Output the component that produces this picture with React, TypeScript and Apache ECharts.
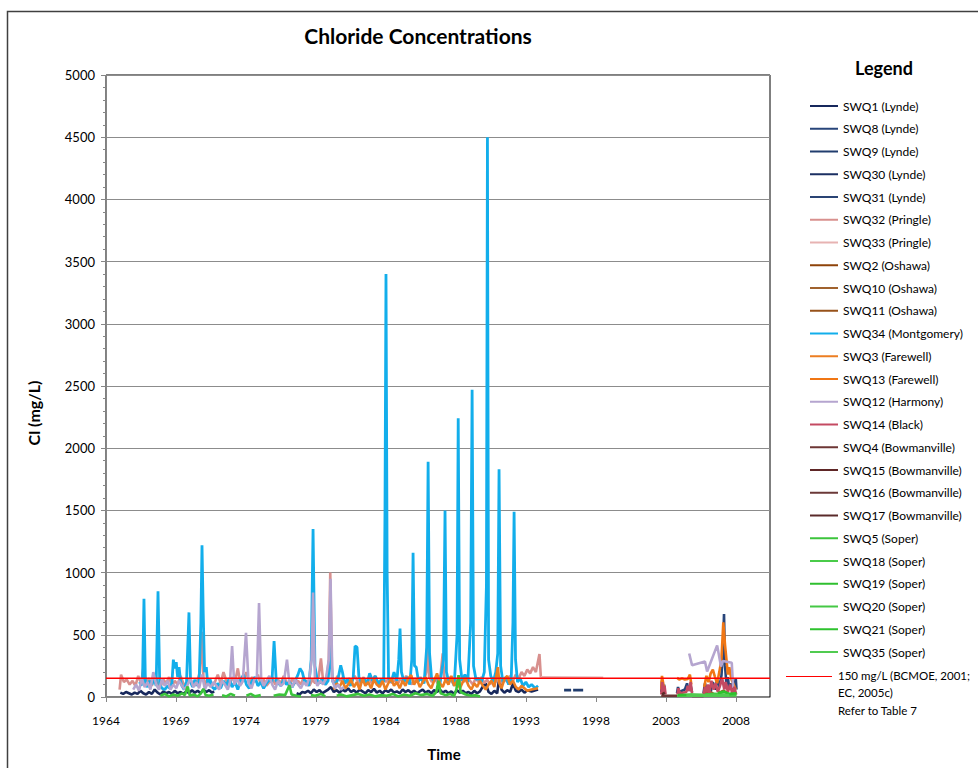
import React, { useEffect, useRef } from 'react';
import * as echarts from 'echarts';

const FONT = 'Lato, "Open Sans", sans-serif';

type Pt = [number, number | string];

// ---------- tick labels ----------
const xTickLabels = ['1964', '1969', '1974', '1979', '1984', '1988', '1993', '1998', '2003', '2008'];
const yMax = 5000;
const yInterval = 500;
const thresholdValue = 150;

// ---------- series names & colours ----------
const seriesNames = [
  'SWQ1 (Lynde)', 'SWQ8 (Lynde)', 'SWQ9 (Lynde)', 'SWQ30 (Lynde)', 'SWQ31 (Lynde)',
  'SWQ32 (Pringle)', 'SWQ33 (Pringle)',
  'SWQ2 (Oshawa)', 'SWQ10 (Oshawa)', 'SWQ11 (Oshawa)',
  'SWQ34 (Montgomery)',
  'SWQ3 (Farewell)', 'SWQ13 (Farewell)',
  'SWQ12 (Harmony)',
  'SWQ14 (Black)',
  'SWQ4 (Bowmanville)', 'SWQ15 (Bowmanville)', 'SWQ16 (Bowmanville)', 'SWQ17 (Bowmanville)',
  'SWQ5 (Soper)', 'SWQ18 (Soper)', 'SWQ19 (Soper)', 'SWQ20 (Soper)', 'SWQ21 (Soper)', 'SWQ35 (Soper)',
];
const seriesColors = [
  '#17285C', '#28457A', '#213D6E', '#1B2F62', '#2A4474',
  '#D8908E', '#E7B3B2',
  '#8E4309', '#A0622E', '#97521A',
  '#12AEEB',
  '#EC7E22', '#F07614',
  '#B5A5CF',
  '#C44A62',
  '#6D3635', '#5F2626', '#6B3938', '#5A2A2A',
  '#3CC43C', '#4ACB4A', '#2FBF2F', '#45C845', '#2EC22E', '#50CB50',
];

// ---------- data [decimal year, Cl mg/L] ----------
const swq1: Pt[] = [
  [1965.5, 35], [1965.7, 25], [1965.9, 40], [1966.1, 30], [1966.3, 20], [1966.5, 35], [1966.7, 25], [1966.9, 50],
  [1967.1, 30], [1967.3, 20], [1967.5, 40], [1967.7, 25], [1967.9, 60], [1968.1, 35], [1968.3, 20], [1968.5, 45],
  [1968.7, 30], [1968.9, 40], [1969.1, 25], [1969.3, 50], [1969.5, 30], [1969.7, 40], [1969.9, 25], [1970.1, 45],
  [1970.3, 30], [1970.5, 55], [1970.7, 35], [1970.9, 50], [1971.1, 30], [1971.3, 60], [1971.5, 40], [1971.7, 55],
  [1971.9, 35], [1972.05, 45], [1972.2, '-'],
  [1977.8, 30], [1978.0, 20], [1978.2, 40], [1978.4, 35], [1978.6, 50], [1978.8, 30], [1979.0, 60], [1979.2, 40],
  [1979.4, 55], [1979.6, 30], [1979.8, 45], [1980.0, 60], [1980.2, 80], [1980.4, 40], [1980.6, 55], [1980.8, 35],
  [1981.0, 60], [1981.2, 45], [1981.4, 70], [1981.6, 40], [1981.8, 55], [1982.0, 35], [1982.2, 60], [1982.4, 45],
  [1982.6, 30], [1982.8, 55], [1983.0, 40], [1983.2, 65], [1983.4, 35], [1983.6, 50], [1983.8, 30], [1984.0, 55],
  [1984.2, 40], [1984.4, 60], [1984.6, 35], [1984.8, 45], [1985.0, 30], [1985.2, 60], [1985.4, 40], [1985.6, 55],
  [1985.8, 35], [1986.0, 50], [1986.2, 30], [1986.4, 45], [1986.6, 60], [1986.8, 35], [1987.0, 50], [1987.2, 30],
  [1987.4, 55], [1987.6, 40], [1987.8, 60], [1988.0, 35], [1988.2, 50], [1988.4, 30], [1988.6, 45], [1988.8, 25],
  [1989.0, 55], [1989.2, 35], [1989.4, 50], [1989.6, 30], [1989.8, 40], [1990.0, 25], [1990.2, 50], [1990.4, 30],
  [1990.6, 45], [1990.8, 85], [1991.0, 110], [1991.2, 40], [1991.4, 25], [1991.6, 50], [1991.8, 30], [1991.95, 160],
  [1992.1, 60], [1992.3, 35], [1992.5, 55], [1992.7, 40], [1992.9, 110], [1993.1, 50], [1993.3, 40], [1993.5, 60],
  [1993.7, 35], [1993.9, 55], [1994.2, 45], [1994.65, 60],
];
const swq8: Pt[] = [
  [2003.25, 40], [2003.3, 130], [2003.38, 60], [2003.45, 100], [2003.5, 30], [2003.6, '-'],
  [2004.35, 30], [2004.42, 80], [2004.5, 40], [2004.9, 60], [2005.05, 110], [2005.15, 50], [2005.3, 90], [2005.4, 40], [2005.5, '-'],
  [2006.2, 30], [2006.3, 110], [2006.4, 60], [2006.55, 90], [2006.7, 40], [2006.85, 120], [2007.0, 60], [2007.15, 140],
  [2007.3, 80], [2007.45, 170], [2007.55, 350], [2007.63, 667], [2007.7, 250], [2007.8, 100], [2007.9, 160], [2008.0, 60],
  [2008.15, 110], [2008.3, 40], [2008.45, 150], [2008.5, 60],
];
const swq9: Pt[] = [
  [1996.47, 55], [1996.96, 55], [1997.03, '-'], [1997.1, 55], [1997.8, 55], [1997.9, '-'],
  [2003.3, 40], [2003.45, 70],
];
const swq30: Pt[] = [[2006.4, 50], [2006.8, 80], [2007.2, 60]];
const swq31: Pt[] = [[2007.7, 90], [2008.1, 70], [2008.45, 100]];

const swq32: Pt[] = [
  [1965.45, 60], [1965.55, 180], [1965.75, 120], [1965.95, 140], [1966.15, 100], [1966.35, 130], [1966.55, 90], [1966.75, 170],
  [1966.95, 110], [1967.1, 230], [1967.3, 120], [1967.5, 150], [1967.7, 90], [1967.9, 180], [1968.1, 120], [1968.3, 80],
  [1968.5, 140], [1968.7, 110], [1968.9, 160], [1969.1, 90], [1969.3, 130], [1969.5, 100], [1969.7, 170], [1969.9, 110],
  [1970.1, 80], [1970.3, 150], [1970.5, 120], [1970.7, 90], [1970.9, 140], [1971.05, 200], [1971.18, 525], [1971.3, 150],
  [1971.5, 100], [1971.7, 130], [1971.9, 90], [1972.1, 120], [1972.3, 180], [1972.5, 110], [1972.7, 200], [1972.9, 130],
  [1973.1, 90], [1973.3, 160], [1973.5, 120], [1973.7, 230], [1973.9, 100], [1974.1, 140], [1974.3, 200], [1974.5, 110],
  [1974.7, 160], [1974.9, 120], [1975.1, 180], [1975.3, 100], [1975.5, 140], [1975.7, 90], [1975.9, 120], [1976.1, 160],
  [1976.3, 100], [1976.5, 140], [1976.7, 110], [1976.9, 170], [1977.1, 120], [1977.3, 90], [1977.5, 150], [1977.7, 110],
  [1977.9, 130], [1978.1, 100], [1978.3, 160], [1978.5, 120], [1978.7, 90], [1978.9, 140], [1979.1, 110], [1979.35, 170],
  [1979.5, 310], [1979.65, 130], [1979.85, 100], [1980.05, 300], [1980.15, 1000], [1980.28, 150], [1980.45, 110], [1980.65, 170],
  [1980.85, 130], [1981.05, 160], [1981.25, 110], [1981.45, 150], [1981.65, 120], [1981.85, 170], [1982.05, 130], [1982.25, 100],
  [1982.45, 160], [1982.65, 120], [1982.85, 150], [1983.05, 110], [1983.25, 170], [1983.45, 130], [1983.65, 100], [1983.85, 150],
  [1984.05, 120], [1984.25, 160], [1984.45, 110], [1984.65, 140], [1984.85, 100], [1985.05, 150], [1985.25, 120], [1985.45, 170],
  [1985.65, 130], [1985.85, 100], [1986.05, 150], [1986.25, 120], [1986.45, 160], [1986.65, 110], [1986.85, 200], [1986.95, 555],
  [1987.05, 160], [1987.25, 120], [1987.45, 150], [1987.65, 110], [1987.85, 180], [1988.0, 350], [1988.12, 150], [1988.3, 120],
  [1988.5, 160], [1988.7, 110], [1988.9, 140], [1989.1, 100], [1989.3, 150], [1989.5, 120], [1989.7, 170], [1989.9, 130],
  [1990.1, 100], [1990.3, 150], [1990.5, 120], [1990.7, 160], [1990.9, 110], [1991.1, 140], [1991.3, 100], [1991.5, 150],
  [1991.7, 120], [1991.9, 160], [1992.1, 110], [1992.3, 150], [1992.5, 120], [1992.7, 170], [1992.9, 130], [1993.1, 180],
  [1993.3, 150], [1993.5, 200], [1993.7, 170], [1993.9, 220], [1994.1, 190], [1994.3, 240], [1994.5, 200], [1994.75, 345],
  [1994.85, 158],
];
const swq33: Pt[] = [[1994.85, 158], [1999.2, 155]];

const swq2: Pt[] = [[2003.3, 25], [2003.5, 40]];
const swq10: Pt[] = [[2006.3, 30], [2006.6, 45], [2006.9, 25]];
const swq11: Pt[] = [[2007.3, 35], [2007.6, 50], [2007.9, 30]];

const swq34: Pt[] = [
  [1966.85, 120], [1966.95, 90], [1967.05, 140], [1967.15, 790], [1967.25, 110], [1967.4, 80], [1967.55, 130], [1967.7, 100],
  [1967.85, 150], [1968.0, 90], [1968.13, 850], [1968.25, 100], [1968.4, 70], [1968.6, 60], [1968.8, 90], [1968.95, 70],
  [1969.1, 110], [1969.2, 300], [1969.3, 230], [1969.4, 280], [1969.5, 160], [1969.6, 240], [1969.7, 130], [1969.8, 90],
  [1969.95, 60], [1970.12, 120], [1970.29, 680], [1970.4, 120], [1970.55, 80], [1970.7, 140], [1970.85, 90], [1971.0, 130],
  [1971.12, 600], [1971.2, 1220], [1971.28, 700], [1971.38, 200], [1971.5, 240], [1971.6, 100], [1971.75, 150], [1971.9, 80],
  [1972.1, 60], [1972.3, 110], [1972.5, 70], [1972.7, 130], [1972.9, 90], [1973.1, 150], [1973.3, 80], [1973.5, 120],
  [1973.7, 60], [1973.9, 140], [1974.1, 180], [1974.3, 100], [1974.5, 70], [1974.7, 130], [1974.9, 160], [1975.1, 90],
  [1975.3, 120], [1975.5, 70], [1975.7, 110], [1975.9, 140], [1976.08, 120], [1976.23, 450], [1976.38, 130], [1976.55, 110],
  [1976.7, 90], [1976.9, 140], [1977.1, 100], [1977.3, 120], [1977.5, 80], [1977.7, 130], [1977.9, 180], [1978.04, 230],
  [1978.2, 200], [1978.35, 130], [1978.5, 120], [1978.65, 90], [1978.82, 300], [1978.95, 1350], [1979.08, 250], [1979.25, 130],
  [1979.4, 110], [1979.6, 150], [1979.8, 100], [1980.0, 130], [1980.17, 420], [1980.3, 130], [1980.5, 90], [1980.7, 150],
  [1980.88, 255], [1981.0, 200], [1981.15, 110], [1981.35, 140], [1981.55, 90], [1981.75, 150], [1981.88, 410], [1982.02, 400],
  [1982.15, 160], [1982.3, 120], [1982.5, 150], [1982.7, 100], [1982.9, 190], [1983.1, 130], [1983.3, 170], [1983.5, 100],
  [1983.7, 140], [1983.88, 120], [1983.97, 1500], [1984.04, 3400], [1984.12, 1000], [1984.22, 150], [1984.4, 120], [1984.6, 200],
  [1984.8, 130], [1984.93, 300], [1985.02, 550], [1985.12, 200], [1985.3, 120], [1985.5, 160], [1985.7, 100], [1985.84, 300],
  [1985.93, 1160], [1986.03, 250], [1986.15, 240], [1986.3, 130], [1986.5, 150], [1986.7, 110], [1986.88, 400], [1986.98, 1890],
  [1987.08, 350], [1987.22, 150], [1987.4, 130], [1987.6, 170], [1987.8, 100], [1988.05, 300], [1988.16, 1500], [1988.26, 200],
  [1988.42, 120], [1988.6, 160], [1988.8, 90], [1989.0, 500], [1989.08, 2240], [1989.18, 300], [1989.35, 130], [1989.55, 180],
  [1989.75, 120], [1989.95, 600], [1990.05, 2470], [1990.15, 250], [1990.32, 140], [1990.5, 150], [1990.7, 120], [1990.9, 200],
  [1991.05, 900], [1991.12, 4500], [1991.2, 300], [1991.35, 170], [1991.52, 120], [1991.7, 200], [1991.84, 350], [1991.93, 1830],
  [1992.04, 250], [1992.2, 120], [1992.4, 160], [1992.6, 100], [1992.78, 150], [1992.9, 600], [1992.98, 1490], [1993.08, 300],
  [1993.22, 120], [1993.4, 150], [1993.6, 90], [1993.8, 120], [1994.0, 80], [1994.2, 100], [1994.45, 70], [1994.65, 90],
];

const swq3: Pt[] = [
  [1980.4, 60], [1980.6, 110], [1980.8, 80], [1981.0, 130], [1981.2, 70], [1981.4, 100], [1981.6, 140], [1981.8, 80],
  [1982.0, 120], [1982.2, 60], [1982.4, 150], [1982.6, 90], [1982.8, 120], [1983.0, 70], [1983.2, 140], [1983.4, 100],
  [1983.6, 80], [1983.8, 130], [1984.0, 60], [1984.2, 110], [1984.4, 150], [1984.6, 90], [1984.8, 120], [1985.0, 70],
  [1985.2, 130], [1985.4, 90], [1985.6, 150], [1985.8, 175], [1986.0, 100], [1986.2, 140], [1986.4, 80], [1986.6, 120],
  [1986.8, 160], [1987.0, 100], [1987.2, 70], [1987.4, 130], [1987.6, 190], [1987.8, 110], [1988.0, 80], [1988.2, 140],
  [1988.4, 100], [1988.6, 170], [1988.8, 90], [1989.0, 130], [1989.2, 70], [1989.4, 120], [1989.6, 150], [1989.8, 90],
  [1990.0, 60], [1990.2, 110], [1990.4, 80], [1990.6, 130], [1990.8, 90], [1991.0, 60], [1991.2, 100], [1991.4, 130],
  [1991.6, 80], [1991.85, 240], [1991.95, 110], [1992.1, 70], [1992.3, 140], [1992.5, 170], [1992.7, 100], [1992.9, 130],
  [1993.1, 80], [1993.3, 60], [1993.5, 90], [1993.7, 70], [1993.9, 50], [1994.2, 60], [1994.65, 70],
];
const swq13: Pt[] = [
  [2003.25, 60], [2003.3, 170], [2003.4, 100], [2003.5, 50], [2003.6, '-'],
  [2004.35, 155], [2004.5, 140], [2004.7, 150], [2004.9, 140], [2005.1, 145], [2005.25, 180], [2005.35, 100], [2005.45, '-'],
  [2006.25, 80], [2006.4, 170], [2006.55, 120], [2006.7, 190], [2006.85, 220], [2007.0, 160], [2007.15, 110], [2007.3, 200],
  [2007.45, 300], [2007.58, 600], [2007.7, 420], [2007.8, 300], [2007.9, 180], [2008.0, 240], [2008.15, 140], [2008.3, 100],
  [2008.45, 60],
];

const swq12: Pt[] = [
  [1966.4, 60], [1966.6, 100], [1966.8, 50], [1967.0, 150], [1967.2, 80], [1967.4, 120], [1967.6, 60], [1967.8, 200],
  [1968.0, 100], [1968.2, 60], [1968.4, 140], [1968.6, 90], [1968.8, 130], [1969.0, 60], [1969.2, 100], [1969.4, 70],
  [1969.6, 130], [1969.8, 90], [1970.0, 60], [1970.2, 100], [1970.4, 150], [1970.6, 80], [1970.8, 120], [1971.0, 70],
  [1971.2, 180], [1971.4, 60], [1971.6, 110], [1971.8, 80], [1972.0, 120], [1972.2, 90], [1972.4, 60], [1972.6, 130],
  [1972.8, 100], [1973.0, 60], [1973.15, 120], [1973.3, 410], [1973.45, 100], [1973.65, 150], [1973.85, 90], [1974.05, 130],
  [1974.27, 515], [1974.45, 110], [1974.65, 70], [1974.85, 140], [1975.03, 160], [1975.18, 755], [1975.33, 140], [1975.5, 90],
  [1975.7, 130], [1975.9, 170], [1976.1, 100], [1976.3, 60], [1976.5, 130], [1976.7, 90], [1976.9, 110], [1977.13, 300],
  [1977.3, 110], [1977.5, 80], [1977.7, 140], [1977.9, 100], [1978.1, 70], [1978.3, 120], [1978.5, 90], [1978.7, 160],
  [1978.85, 300], [1978.95, 840], [1979.08, 150], [1979.25, 90], [1979.45, 130], [1979.65, 100], [1979.85, 150], [1980.05, 300],
  [1980.17, 950], [1980.3, 130], [1980.5, 70], [1980.7, 100], [1980.9, 60], [1981.1, 80], [1981.2, '-'],
  [2005.2, 350], [2005.4, 255], [2006.3, 285], [2006.45, 205], [2007.15, 415], [2007.42, 245], [2007.55, 290], [2008.17, 275],
  [2008.27, 70],
];

const swq14: Pt[] = [
  [2003.25, 20], [2003.32, 120], [2003.4, 40], [2003.48, 90], [2003.55, 20], [2003.6, '-'],
  [2004.38, 20], [2004.45, 70], [2004.55, 30], [2005.0, 40], [2005.1, 90], [2005.2, 50], [2005.3, 120], [2005.4, 30], [2005.5, '-'],
  [2006.2, 20], [2006.3, 80], [2006.4, 40], [2006.5, 100], [2006.6, 30], [2006.75, 130], [2006.9, 60], [2007.05, 110],
  [2007.2, 40], [2007.35, 90], [2007.5, 150], [2007.65, 60], [2007.75, 120], [2007.9, 40], [2008.05, 100], [2008.2, 30],
  [2008.35, 80], [2008.48, 20],
];

const swq4: Pt[] = [[2003.25, 10], [2004.35, 10]];
const swq15: Pt[] = [[2005.4, 8], [2006.2, 8]];
const swq16: Pt[] = [[2006.3, 15], [2008.4, 15]];
const swq17: Pt[] = [[2003.3, 20], [2003.5, 35]];

const swq5: Pt[] = [
  [1968.3, 10], [1968.6, 25], [1968.9, 5], [1969.2, 20], [1969.5, 10], [1969.8, 30], [1970.0, 15], [1970.2, 85],
  [1970.35, 10], [1970.6, 20], [1970.9, 5], [1971.1, 25], [1971.3, 65], [1971.45, 15], [1971.7, 10], [1972.0, 20],
  [1972.2, '-'], [1972.6, 15], [1972.9, 5], [1973.2, 25], [1973.5, 10], [1973.6, '-'],
  [1974.3, 10], [1974.6, 25], [1974.9, 5], [1975.3, 15], [1975.4, '-'],
  [1976.2, 10], [1976.6, 20], [1977.0, 15], [1977.3, 95], [1977.45, 20], [1977.8, 10], [1978.1, 5], [1978.2, '-'],
  [1978.8, 15], [1979.1, 10], [1979.5, 25], [1979.8, 5], [1979.9, '-'],
  [1980.6, 10], [1980.9, 20], [1981.3, 5], [1981.7, 15], [1982.1, 25], [1982.5, 10], [1982.9, 20], [1983.3, 5],
  [1983.7, 15], [1984.1, 10], [1984.5, 25], [1984.9, 5], [1985.3, 20], [1985.7, 10], [1986.1, 30], [1986.5, 15],
  [1986.9, 25], [1987.3, 10], [1987.55, 40], [1987.7, 130], [1987.85, 30], [1988.2, 15], [1988.5, 25], [1988.8, 10],
  [1988.95, 60], [1989.1, 175], [1989.25, 40], [1989.6, 20], [1990.0, 10], [1990.3, 15], [1990.6, 5],
];
const swq18: Pt[] = [[2004.35, 10], [2005.3, 12], [2006.0, 10], [2006.8, 12], [2007.5, 10], [2008.5, 12]];
const swq19: Pt[] = [[2004.4, 15], [2005.4, 20], [2006.2, 15]];
const swq20: Pt[] = [[2006.3, 20], [2007.0, 25], [2007.8, 18], [2008.5, 22]];
const swq21: Pt[] = [[2007.2, 30], [2007.6, 45], [2008.0, 25], [2008.5, 30]];
const swq35: Pt[] = [[2005.0, 12], [2006.0, 15], [2007.0, 12], [2008.0, 15]];

const seriesData: Pt[][] = [
  swq1, swq8, swq9, swq30, swq31,
  swq32, swq33,
  swq2, swq10, swq11,
  swq34,
  swq3, swq13,
  swq12,
  swq14,
  swq4, swq15, swq16, swq17,
  swq5, swq18, swq19, swq20, swq21, swq35,
];

const thresholdLines = ['150 mg/L (BCMOE, 2001;', 'EC, 2005c)', 'Refer to Table 7'];

export default function App() {
  const ref = useRef<HTMLDivElement>(null);

  useEffect(() => {
    if (!ref.current) return;
    const chart = echarts.init(ref.current, null, { renderer: 'svg' });

    const xMin = 1964.5;
    const xStep = 4.885;
    const xMax = xMin + 9.486 * xStep;
    const tickValues = xTickLabels.map((_, i) => xMin + i * xStep);

    const series: any[] = seriesNames.map((name, i) => ({
      type: 'line',
      name,
      data: seriesData[i],
      symbol: 'none',
      connectNulls: false,
      silent: true,
      lineStyle: { color: seriesColors[i], width: name.startsWith('SWQ34') ? 2.8 : 2.6 },
      itemStyle: { color: seriesColors[i] },
    }));
    series.push({
      type: 'line',
      name: 'threshold',
      data: [[xMin, thresholdValue], [xMax, thresholdValue]],
      symbol: 'none',
      silent: true,
      z: 5,
      lineStyle: { color: '#FF0000', width: 1.5 },
      itemStyle: { color: '#FF0000' },
    });

    const option: any = {
      animation: false,
      backgroundColor: '#ffffff',
      textStyle: { fontFamily: FONT },
      title: [
        {
          text: 'Chloride Concentrations',
          left: 418,
          top: 25,
          padding: 0,
          textAlign: 'center',
          textStyle: { fontFamily: FONT, fontSize: 21, fontWeight: 'bold', color: '#000' },
        },
        {
          text: 'Legend',
          left: 884,
          top: 59,
          padding: 0,
          textAlign: 'center',
          textStyle: { fontFamily: FONT, fontSize: 18, fontWeight: 'bold', color: '#000' },
        },
      ],
      legend: {
        data: seriesNames,
        orient: 'vertical',
        left: 809,
        top: 100,
        padding: 0,
        itemWidth: 28,
        itemHeight: 12,
        itemGap: 10.75,
        selectedMode: false,
        lineStyle: { width: 2 },
        itemStyle: { opacity: 0 },
        textStyle: { fontFamily: FONT, fontSize: 12, color: '#000' },
      },
      grid: {
        left: 106,
        right: 208,
        top: 75,
        bottom: 71,
        show: true,
        borderColor: '#000',
        borderWidth: 1,
        containLabel: false,
        outerBoundsMode: 'none',
      },
      xAxis: {
        type: 'value',
        min: xMin,
        max: xMax,
        axisLine: { show: true, lineStyle: { color: '#868686', width: 1 } },
        axisTick: { show: true, length: 5, customValues: tickValues, lineStyle: { color: '#868686' } },
        axisLabel: {
          customValues: tickValues,
          margin: 17,
          fontFamily: FONT,
          fontSize: 12,
          color: '#000',
          formatter: (v: number) => {
            const i = tickValues.findIndex((t) => Math.abs(t - v) < 1e-6);
            return i >= 0 ? xTickLabels[i] : '';
          },
        },
        splitLine: { show: false },
      },
      yAxis: {
        type: 'value',
        min: 0,
        max: yMax,
        interval: yInterval,
        axisLine: { show: true, lineStyle: { color: '#868686', width: 1 } },
        axisTick: { show: true, length: 5, lineStyle: { color: '#868686' } },
        minorTick: { show: true, splitNumber: 5, length: 3, lineStyle: { color: '#868686' } },
        axisLabel: {
          margin: 11,
          fontFamily: FONT,
          fontSize: 13,
          color: '#000',
          formatter: (v: number) => String(v),
        },
        splitLine: { show: true, lineStyle: { color: '#8c8c8c', width: 1 } },
      },
      graphic: [
        {
          type: 'rect',
          silent: true,
          shape: { x: 7.5, y: 11.5, width: 1000, height: 800 },
          style: { fill: 'none', stroke: '#404040', lineWidth: 1.5 },
          z: 100,
        },
        {
          type: 'text',
          silent: true,
          x: 33,
          y: 413,
          rotation: Math.PI / 2,
          style: {
            text: 'Cl (mg/L)',
            fontFamily: FONT,
            fontSize: 16,
            fontWeight: 'bold',
            fill: '#000',
            align: 'center',
            verticalAlign: 'middle',
          },
        },
        {
          type: 'text',
          silent: true,
          x: 444,
          y: 754,
          style: {
            text: 'Time',
            fontFamily: FONT,
            fontSize: 15,
            fontWeight: 'bold',
            fill: '#000',
            align: 'center',
            verticalAlign: 'middle',
          },
        },
        {
          type: 'line',
          silent: true,
          shape: { x1: 786, y1: 676.5, x2: 832, y2: 676.5 },
          style: { stroke: '#FF0000', lineWidth: 1.2 },
        },
        {
          type: 'text',
          silent: true,
          left: 838,
          top: 669,
          style: { text: thresholdLines[0], fontFamily: FONT, fontSize: 11.5, fill: '#000' },
        },
        {
          type: 'text',
          silent: true,
          left: 838,
          top: 686,
          style: { text: thresholdLines[1], fontFamily: FONT, fontSize: 11.5, fill: '#000' },
        },
        {
          type: 'text',
          silent: true,
          left: 838,
          top: 704,
          style: { text: thresholdLines[2], fontFamily: FONT, fontSize: 11.5, fill: '#000' },
        },
      ],
      series,
    };

    chart.setOption(option);
    return () => chart.dispose();
  }, []);

  return (
    <div
      ref={ref}
      style={{ position: 'absolute', left: 0, top: 0, width: 978, height: 768 }}
    />
  );
}
